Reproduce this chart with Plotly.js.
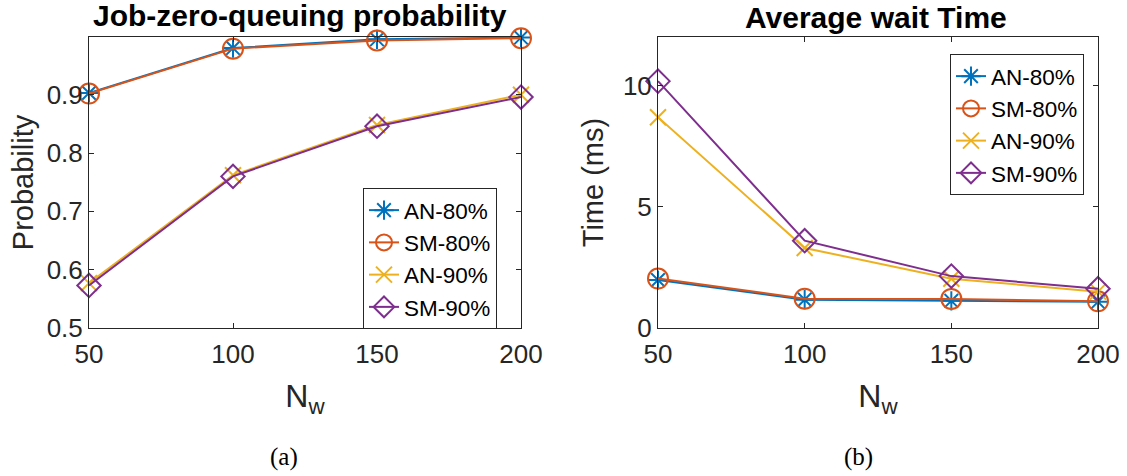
<!DOCTYPE html>
<html>
<head>
<meta charset="utf-8">
<script src="https://cdn.plot.ly/plotly-3.0.1.min.js"></script>
<style>html,body{margin:0;padding:0;background:#fff;}#chart{width:1127px;height:476px;}</style>
</head>
<body>
<div id="chart"></div>
<script>
// ---- data ----
const nw = [50, 100, 150, 200];
const seriesNames = ["AN-80%", "SM-80%", "AN-90%", "SM-90%"];
// (a) Job-zero-queuing probability
const probAN80 = [0.903, 0.980, 0.995, 0.998];
const probSM80 = [0.902, 0.979, 0.993, 0.997];
const probAN90 = [0.577, 0.762, 0.848, 0.900];
const probSM90 = [0.573, 0.760, 0.846, 0.896];
// (b) Average wait time (ms)
const waitAN80 = [1.98, 1.17, 1.12, 1.08];
const waitSM80 = [2.04, 1.21, 1.20, 1.10];
const waitAN90 = [8.69, 3.30, 2.03, 1.50];
const waitSM90 = [10.18, 3.60, 2.14, 1.62];
const yTicksA = [0.5, 0.6, 0.7, 0.8, 0.9];
const yTicksB = [0, 5, 10];
const xTicks = [50, 100, 150, 200];

const colors = ["#0072BD", "#D95319", "#EDB120", "#7E2F8E"];
const symbols = ["asterisk-open", "circle-open", "x-thin-open", "diamond-open"];
const sizes = [16, 20, 16, 18];

function mk(y, i, xa, ya, leg) {
  return {
    x: nw, y: y, name: seriesNames[i], type: "scatter", mode: "lines+markers",
    xaxis: xa, yaxis: ya, legend: leg, cliponaxis: false,
    line: {color: colors[i], width: 2},
    marker: {symbol: symbols[i], size: sizes[i], color: colors[i], line: {color: colors[i], width: 2}}
  };
}

const data = [
  mk(probAN80, 0, "x", "y", "legend"),
  mk(probSM80, 1, "x", "y", "legend"),
  mk(probAN90, 2, "x", "y", "legend"),
  mk(probSM90, 3, "x", "y", "legend"),
  mk(waitAN80, 0, "x2", "y2", "legend2"),
  mk(waitSM80, 1, "x2", "y2", "legend2"),
  mk(waitAN90, 2, "x2", "y2", "legend2"),
  mk(waitSM90, 3, "x2", "y2", "legend2")
];

const SANS = "Liberation Sans, Arial, sans-serif";
const tickFont = {family: SANS, size: 26, color: "#262626"};
const axCommon = {
  showline: true, mirror: "ticks", linecolor: "#262626", linewidth: 1,
  ticks: "inside", ticklen: 5, tickcolor: "#262626", tickwidth: 1,
  showgrid: false, zeroline: false, tickfont: tickFont, fixedrange: true
};
const H = 476, W = 1127;
const yDom = [(H - 328) / H, (H - 37) / H];
const legFont = {family: SANS, size: 22.5, color: "#000"};
const xTitleFont = {family: SANS, size: 32, color: "#262626"};
const yTitleFont = {family: SANS, size: 29, color: "#262626"};

const layout = {
  width: W, height: H,
  margin: {l: 0, r: 0, t: 0, b: 0},
  paper_bgcolor: "#fff", plot_bgcolor: "#fff",
  showlegend: true,
  xaxis: Object.assign({}, axCommon, {domain: [89 / W, 521 / W], range: [50, 200], tickvals: xTicks, anchor: "y",
    ticklabelstandoff: 3, title: {text: "N<sub>w</sub>", font: xTitleFont, standoff: 16}}),
  yaxis: Object.assign({}, axCommon, {domain: yDom, range: [0.5, 0.999], tickvals: yTicksA, ticktext: yTicksA.map(v => v.toFixed(1)), anchor: "x",
    title: {text: "Probability", font: yTitleFont, standoff: 4}}),
  xaxis2: Object.assign({}, axCommon, {domain: [658 / W, 1098 / W], range: [50, 200], tickvals: xTicks, anchor: "y2",
    ticklabelstandoff: 3, title: {text: "N<sub>w</sub>", font: xTitleFont, standoff: 16}}),
  yaxis2: Object.assign({}, axCommon, {domain: yDom, range: [0, 12], tickvals: yTicksB, anchor: "x2",
    title: {text: "Time (ms)", font: yTitleFont, standoff: 10}}),
  legend: {x: 363 / W, y: (H - 188) / H, xanchor: "left", yanchor: "top", bgcolor: "#fff",
    bordercolor: "#262626", borderwidth: 1, font: legFont, tracegroupgap: 0, itemwidth: 30},
  legend2: {x: 950 / W, y: (H - 54) / H, xanchor: "left", yanchor: "top", bgcolor: "#fff",
    bordercolor: "#262626", borderwidth: 1, font: legFont, tracegroupgap: 0, itemwidth: 30},
  annotations: [
    {text: "<b>Job-zero-queuing probability</b>", x: 300 / W, y: 1 - 16 / H, xref: "paper", yref: "paper",
      showarrow: false, xanchor: "center", yanchor: "middle", font: {family: SANS, size: 30, color: "#000"}},
    {text: "<b>Average wait Time</b>", x: 876 / W, y: 1 - 18 / H, xref: "paper", yref: "paper",
      showarrow: false, xanchor: "center", yanchor: "middle", font: {family: SANS, size: 30, color: "#000"}},
    {text: "(a)", x: 284 / W, y: 1 - 457 / H, xref: "paper", yref: "paper", showarrow: false, xanchor: "center", yanchor: "middle",
      font: {family: "Liberation Serif, Times New Roman, serif", size: 25, color: "#000"}},
    {text: "(b)", x: 858 / W, y: 1 - 457 / H, xref: "paper", yref: "paper", showarrow: false, xanchor: "center", yanchor: "middle",
      font: {family: "Liberation Serif, Times New Roman, serif", size: 25, color: "#000"}}
  ]
};

Plotly.newPlot("chart", data, layout, {displayModeBar: false, staticPlot: true});
</script>
</body>
</html>
